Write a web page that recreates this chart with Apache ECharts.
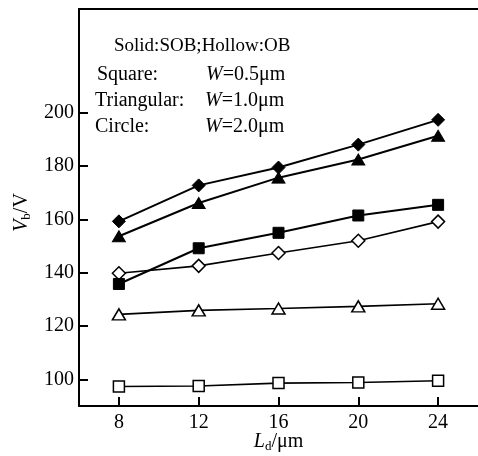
<!DOCTYPE html>
<html>
<head>
<meta charset="utf-8">
<script src="https://cdn.jsdelivr.net/npm/echarts@6/dist/echarts.min.js"></script>
<style>
  html, body { margin: 0; padding: 0; background: #fff; }
  #chart { width: 478px; height: 456px; }
</style>
</head>
<body>
<div id="chart"></div>
<script>
// Drain length L_d (µm)
const ldValues = [8, 12, 16, 20, 24];

// Breakdown voltage V_b (V); solid = SOB, hollow = OB
const sobCircle = [159.3, 172.8, 179.5, 188.1, 197.4];   // W = 2.0 µm
const sobTriangle = [153.7, 166.2, 175.7, 182.5, 191.4]; // W = 1.0 µm
const sobSquare = [135.8, 149.2, 155.0, 161.5, 165.5];   // W = 0.5 µm
const obCircle = [139.8, 142.6, 147.4, 152.0, 159.2];    // W = 2.0 µm
const obTriangle = [124.4, 125.9, 126.6, 127.4, 128.4];  // W = 1.0 µm
const obSquare = [97.3, 97.5, 98.6, 98.8, 99.5];         // W = 0.5 µm

const xTickValues = [8, 12, 16, 20, 24];
const yTickValues = [100, 120, 140, 160, 180, 200];

const FONT = '"Liberation Serif", "Times New Roman", serif';

function pairs(values) {
  return ldValues.map((x, i) => [x, values[i]]);
}

function makeSeries(name, values, symbol, size, filled, lineWidth) {
  return {
    name: name,
    type: 'line',
    data: pairs(values),
    symbol: symbol,
    symbolSize: size,
    showSymbol: true,
    animation: false,
    lineStyle: { color: '#000', width: lineWidth },
    itemStyle: filled
      ? { color: '#000', borderColor: '#000', borderWidth: 1 }
      : { color: '#fff', borderColor: '#000', borderWidth: 1.5 },
    emphasis: { disabled: true },
    z: filled ? 3 : 2
  };
}

function legendLine(text, left, top, size) {
  return { type: 'text', left: left, top: top, style: { text: text, font: size + 'px ' + FONT, fill: '#000' } };
}

function widthLine(value, left, top) {
  return {
    type: 'text', left: left, top: top,
    style: {
      text: '{i|W}{n|=' + value + 'μm}',
      rich: {
        i: { font: 'italic 20px ' + FONT, fill: '#000' },
        n: { font: '20px ' + FONT, fill: '#000' }
      }
    }
  };
}

const chart = echarts.init(document.getElementById('chart'), null, { renderer: 'canvas' });

const axisLineStyle = { color: '#000', width: 2 };

chart.setOption({
  backgroundColor: '#fff',
  animation: false,
  grid: { left: 79, right: 0, top: 9, bottom: 50, containLabel: false, outerBoundsMode: 'none' },
  xAxis: [
    {
      type: 'value',
      min: 6,
      max: 26,
      position: 'bottom',
      splitLine: { show: false },
      axisLine: { show: true, onZero: false, lineStyle: axisLineStyle },
      axisTick: { show: true, inside: true, length: 9, lineStyle: { color: '#000', width: 2 }, customValues: xTickValues },
      axisLabel: { color: '#000', fontFamily: FONT, fontSize: 20, margin: 7, customValues: xTickValues },
      name: '{i|L}{sub|d}{n|/μm}',
      nameLocation: 'middle',
      nameGap: 25,
      nameMoveOverlap: false,
      nameTextStyle: {
        rich: {
          i: { fontFamily: FONT, fontSize: 20, fontStyle: 'italic', color: '#000' },
          sub: { fontFamily: FONT, fontSize: 13, color: '#000', verticalAlign: 'bottom', padding: [9, 0, 0, 0] },
          n: { fontFamily: FONT, fontSize: 20, color: '#000' }
        }
      }
    },
    {
      type: 'value',
      min: 6,
      max: 26,
      position: 'top',
      splitLine: { show: false },
      axisLine: { show: true, onZero: false, lineStyle: axisLineStyle },
      axisTick: { show: false },
      axisLabel: { show: false }
    }
  ],
  yAxis: {
    type: 'value',
    min: 90,
    max: 239,
    splitLine: { show: false },
    axisLine: { show: true, onZero: false, lineStyle: axisLineStyle },
    axisTick: { show: true, inside: true, length: 9, lineStyle: { color: '#000', width: 2 }, customValues: yTickValues },
    axisLabel: { color: '#000', fontFamily: FONT, fontSize: 20, margin: 5, customValues: yTickValues },
    name: '{i|V}{sub|b}{n|/V}',
    nameLocation: 'middle',
    nameRotate: 90,
    nameGap: 46,
    nameMoveOverlap: false,
    nameTextStyle: {
      padding: [0, 10, 0, 0],
      rich: {
        i: { fontFamily: FONT, fontSize: 20, fontStyle: 'italic', color: '#000' },
        sub: { fontFamily: FONT, fontSize: 13, color: '#000', verticalAlign: 'bottom', padding: [9, 0, 0, 0] },
        n: { fontFamily: FONT, fontSize: 20, color: '#000' }
      }
    }
  },
  series: [
    makeSeries('SOB W=2.0', sobCircle, 'diamond', 13, true, 2),
    makeSeries('SOB W=1.0', sobTriangle, 'triangle', [13, 11], true, 2),
    makeSeries('SOB W=0.5', sobSquare, 'rect', 11, true, 2),
    makeSeries('OB W=2.0', obCircle, 'diamond', 13, false, 1.6),
    makeSeries('OB W=1.0', obTriangle, 'triangle', [13, 11], false, 1.6),
    makeSeries('OB W=0.5', obSquare, 'rect', 11, false, 1.6)
  ],
  graphic: [
    legendLine('Solid:SOB;Hollow:OB', 114, 37, 19),
    legendLine('Square:', 97, 65, 20),
    legendLine('Triangular:', 95, 91, 20),
    legendLine('Circle:', 95, 117, 20),
    widthLine('0.5', 206, 65),
    widthLine('1.0', 205, 91),
    widthLine('2.0', 205, 117)
  ]
});
</script>
</body>
</html>
